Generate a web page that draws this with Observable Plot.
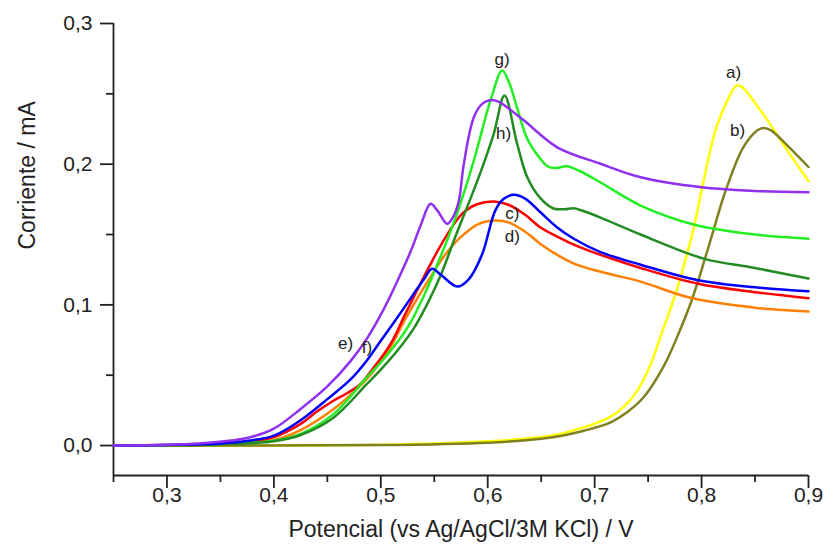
<!DOCTYPE html>
<html>
<head>
<meta charset="utf-8">
<script src="https://cdn.jsdelivr.net/npm/d3@7"></script>
<script src="https://cdn.jsdelivr.net/npm/@observablehq/plot@0.6"></script>
<style>
  html, body { margin: 0; padding: 0; background: #fff; }
  #chart svg { display: block; font-family: "Liberation Sans", Arial, sans-serif; }
</style>
</head>
<body>
<div id="chart"></div>
<script>
// ---- data (potential in V, current in mA) ----
const POT_A = [0.25,0.5,0.6,0.65,0.668,0.69,0.70,0.715,0.728,0.74,0.752,0.763,0.7757,0.786,0.7934,0.8006,0.813,0.824,0.833,0.84,0.846,0.861,0.88,0.9];
const CUR_A = [0,0.0005,0.003,0.006,0.0083,0.013,0.0155,0.0205,0.028,0.039,0.057,0.0805,0.108,0.135,0.157,0.1836,0.224,0.245,0.256,0.2535,0.2476,0.232,0.21,0.188];

const POT_B = [0.25,0.5,0.6,0.65,0.668,0.69,0.715,0.73,0.746,0.765,0.779,0.7897,0.7968,0.8027,0.8115,0.8224,0.839,0.852,0.858,0.865,0.878,0.9];
const CUR_B = [0,0.0003,0.002,0.0048,0.0068,0.0105,0.0165,0.0235,0.0345,0.057,0.0805,0.101,0.117,0.1317,0.154,0.181,0.212,0.224,0.2258,0.224,0.215,0.198];

const POT_C = [0.25,0.30,0.35,0.378,0.40,0.425,0.44,0.456,0.468,0.48,0.49,0.509,0.523,0.545,0.5605,0.576,0.59,0.6057,0.62,0.635,0.649,0.665,0.68,0.7055,0.743,0.7968,0.85,0.9];
const CUR_C = [0,0.0003,0.001,0.0024,0.006,0.0154,0.024,0.032,0.037,0.043,0.052,0.072,0.0936,0.1268,0.148,0.1647,0.1715,0.1735,0.171,0.164,0.1552,0.1485,0.143,0.1355,0.1262,0.115,0.109,0.1047];

const POT_D = [0.25,0.30,0.35,0.40,0.425,0.456,0.4717,0.49,0.509,0.523,0.545,0.5605,0.576,0.5917,0.607,0.62,0.635,0.649,0.665,0.68,0.7055,0.743,0.7897,0.85,0.9];
const CUR_D = [0,0.0002,0.0008,0.004,0.011,0.026,0.036,0.05,0.07,0.09,0.118,0.136,0.149,0.1576,0.160,0.1585,0.152,0.1435,0.1355,0.1295,0.1235,0.1165,0.105,0.098,0.0953];

const POT_E = [0.25,0.30,0.35,0.378,0.40,0.425,0.45,0.4717,0.487,0.50,0.515,0.53,0.541,0.548,0.556,0.5714,0.582,0.5948,0.607,0.615,0.6244,0.635,0.649,0.665,0.6805,0.7055,0.743,0.7968,0.85,0.9];
const CUR_E = [0,0.0004,0.0015,0.0036,0.007,0.018,0.033,0.047,0.0605,0.0745,0.0905,0.107,0.119,0.1256,0.1215,0.113,0.118,0.136,0.167,0.1754,0.1782,0.1755,0.166,0.155,0.147,0.1375,0.1285,0.1175,0.1125,0.1097];

const POT_F = [0.25,0.30,0.33,0.36,0.378,0.40,0.425,0.45,0.4717,0.487,0.50,0.5137,0.529,0.5375,0.5465,0.553,0.562,0.568,0.573,0.5776,0.587,0.595,0.602,0.61,0.618,0.634,0.665,0.7055,0.743,0.80,0.85,0.9];
const CUR_F = [0,0.0005,0.0014,0.0035,0.0059,0.012,0.026,0.042,0.060,0.076,0.093,0.114,0.140,0.157,0.1718,0.167,0.1576,0.163,0.174,0.200,0.2334,0.243,0.2455,0.2445,0.2405,0.231,0.212,0.2003,0.1907,0.1836,0.181,0.180];

const POT_G = [0.25,0.30,0.35,0.40,0.425,0.456,0.487,0.50,0.515,0.526,0.54,0.556,0.57,0.587,0.6026,0.6135,0.62,0.6275,0.637,0.649,0.656,0.663,0.674,0.685,0.7055,0.743,0.7934,0.85,0.9];
const CUR_G = [0,0.0002,0.001,0.0035,0.0083,0.0225,0.0486,0.059,0.073,0.085,0.106,0.1345,0.162,0.2026,0.2453,0.2666,0.258,0.240,0.218,0.204,0.1985,0.1972,0.1985,0.1955,0.187,0.1706,0.157,0.150,0.147];

const POT_H = [0.25,0.30,0.35,0.40,0.425,0.456,0.487,0.50,0.515,0.531,0.545,0.556,0.57,0.5917,0.6057,0.6157,0.6275,0.637,0.649,0.6615,0.672,0.6805,0.69,0.7055,0.743,0.8027,0.8458,0.9];
const CUR_H = [0,0.0002,0.0008,0.003,0.0075,0.020,0.0438,0.054,0.067,0.0835,0.103,0.121,0.149,0.191,0.2218,0.2488,0.2145,0.1907,0.176,0.1685,0.168,0.1687,0.1665,0.162,0.150,0.1327,0.1268,0.1187];

const SERIES = ["a","b","c","d","e","f","g","h"];
const COLORS = ["#ffff00","#808020","#ff0000","#ff8000","#0000ff","#9030f0","#22ee22","#228b22"];

const LABELS  = ["a)","b)","c)","d)","e)","f)","g)","h)"];
const LABEL_X = [0.830,0.8336,0.623,0.623,0.467,0.487,0.6135,0.6148];
const LABEL_Y = [0.265,0.224,0.165,0.1486,0.0727,0.0697,0.2744,0.2218];

const X_TICKS = [0.3,0.4,0.5,0.6,0.7,0.8,0.9];
const X_MINOR = [0.25,0.35,0.45,0.55,0.65,0.75,0.85];
const Y_TICKS = [0,0.1,0.2,0.3];
const Y_MINOR = [0.05,0.15,0.25];

const X_TITLE = "Potencial (vs Ag/AgCl/3M KCl) / V";
const Y_TITLE = "Corriente / mA";

// ---- build rows ----
const potArrays = [POT_A,POT_B,POT_C,POT_D,POT_E,POT_F,POT_G,POT_H];
const curArrays = [CUR_A,CUR_B,CUR_C,CUR_D,CUR_E,CUR_F,CUR_G,CUR_H];
const rows = [];
SERIES.forEach((s, i) => potArrays[i].forEach((p, j) => rows.push({series: s, pot: p, cur: curArrays[i][j]})));
const labelRows = LABELS.map((t, i) => ({t, x: LABEL_X[i], y: LABEL_Y[i]}));

const comma = d => d.toFixed(1).replace(".", ",");
const Y_MIN = -0.0213;
const X_MIN = 0.25;
const drawOrder = ["a","b","d","c","g","h","e","f"];
const AX = "#222";

const W = 826, H = 547, ML = 113, MR = 18, MT = 23, MB = 72;
const FW = W - ML - MR, FH = H - MT - MB;

const chart = Plot.plot({
  width: W,
  height: H,
  marginLeft: ML,
  marginRight: MR,
  marginTop: MT,
  marginBottom: MB,
  style: {fontFamily: "Liberation Sans, Arial, sans-serif", background: "#fff"},
  x: {domain: [X_MIN, 0.9], axis: null},
  y: {domain: [Y_MIN, 0.3], axis: null},
  color: {domain: SERIES, range: COLORS},
  marks: [
    // axis lines
    Plot.ruleY([Y_MIN], {x1: X_MIN, x2: 0.9, stroke: AX, strokeWidth: 1.8}),
    Plot.ruleX([X_MIN], {y1: Y_MIN, y2: 0.3, stroke: AX, strokeWidth: 1.8}),
    // x ticks (outward, below the frame)
    Plot.ruleX(X_TICKS, {x: d => d, insetTop: FH, insetBottom: -13, stroke: AX, strokeWidth: 1.8}),
    Plot.ruleX(X_MINOR, {x: d => d, insetTop: FH, insetBottom: -7, stroke: AX, strokeWidth: 1.8}),
    // y ticks (outward, left of the frame)
    Plot.ruleY(Y_TICKS, {y: d => d, insetLeft: -13, insetRight: FW, stroke: AX, strokeWidth: 1.8}),
    Plot.ruleY(Y_MINOR, {y: d => d, insetLeft: -7, insetRight: FW, stroke: AX, strokeWidth: 1.8}),
    // tick labels
    Plot.text(X_TICKS, {x: d => d, frameAnchor: "bottom", dy: 26, text: comma, fontSize: 21, fill: AX}),
    Plot.text(Y_TICKS, {y: d => d, frameAnchor: "left", dx: -21, textAnchor: "end", text: comma, fontSize: 21, fill: AX}),
    // curves
    ...drawOrder.map(s => Plot.line(rows.filter(r => r.series === s), {x: "pot", y: "cur", stroke: "series", strokeWidth: 2.5, curve: "catmull-rom"})),
    // curve labels
    Plot.text(labelRows, {x: "x", y: "y", text: "t", fontSize: 17, fill: AX}),
    // axis titles
    Plot.text([X_TITLE], {frameAnchor: "bottom", dy: 61, fontSize: 23, fill: AX}),
    Plot.text([Y_TITLE], {frameAnchor: "left", dx: -86, rotate: -90, fontSize: 23, fill: AX})
  ]
});
document.getElementById("chart").appendChild(chart);
</script>
</body>
</html>
